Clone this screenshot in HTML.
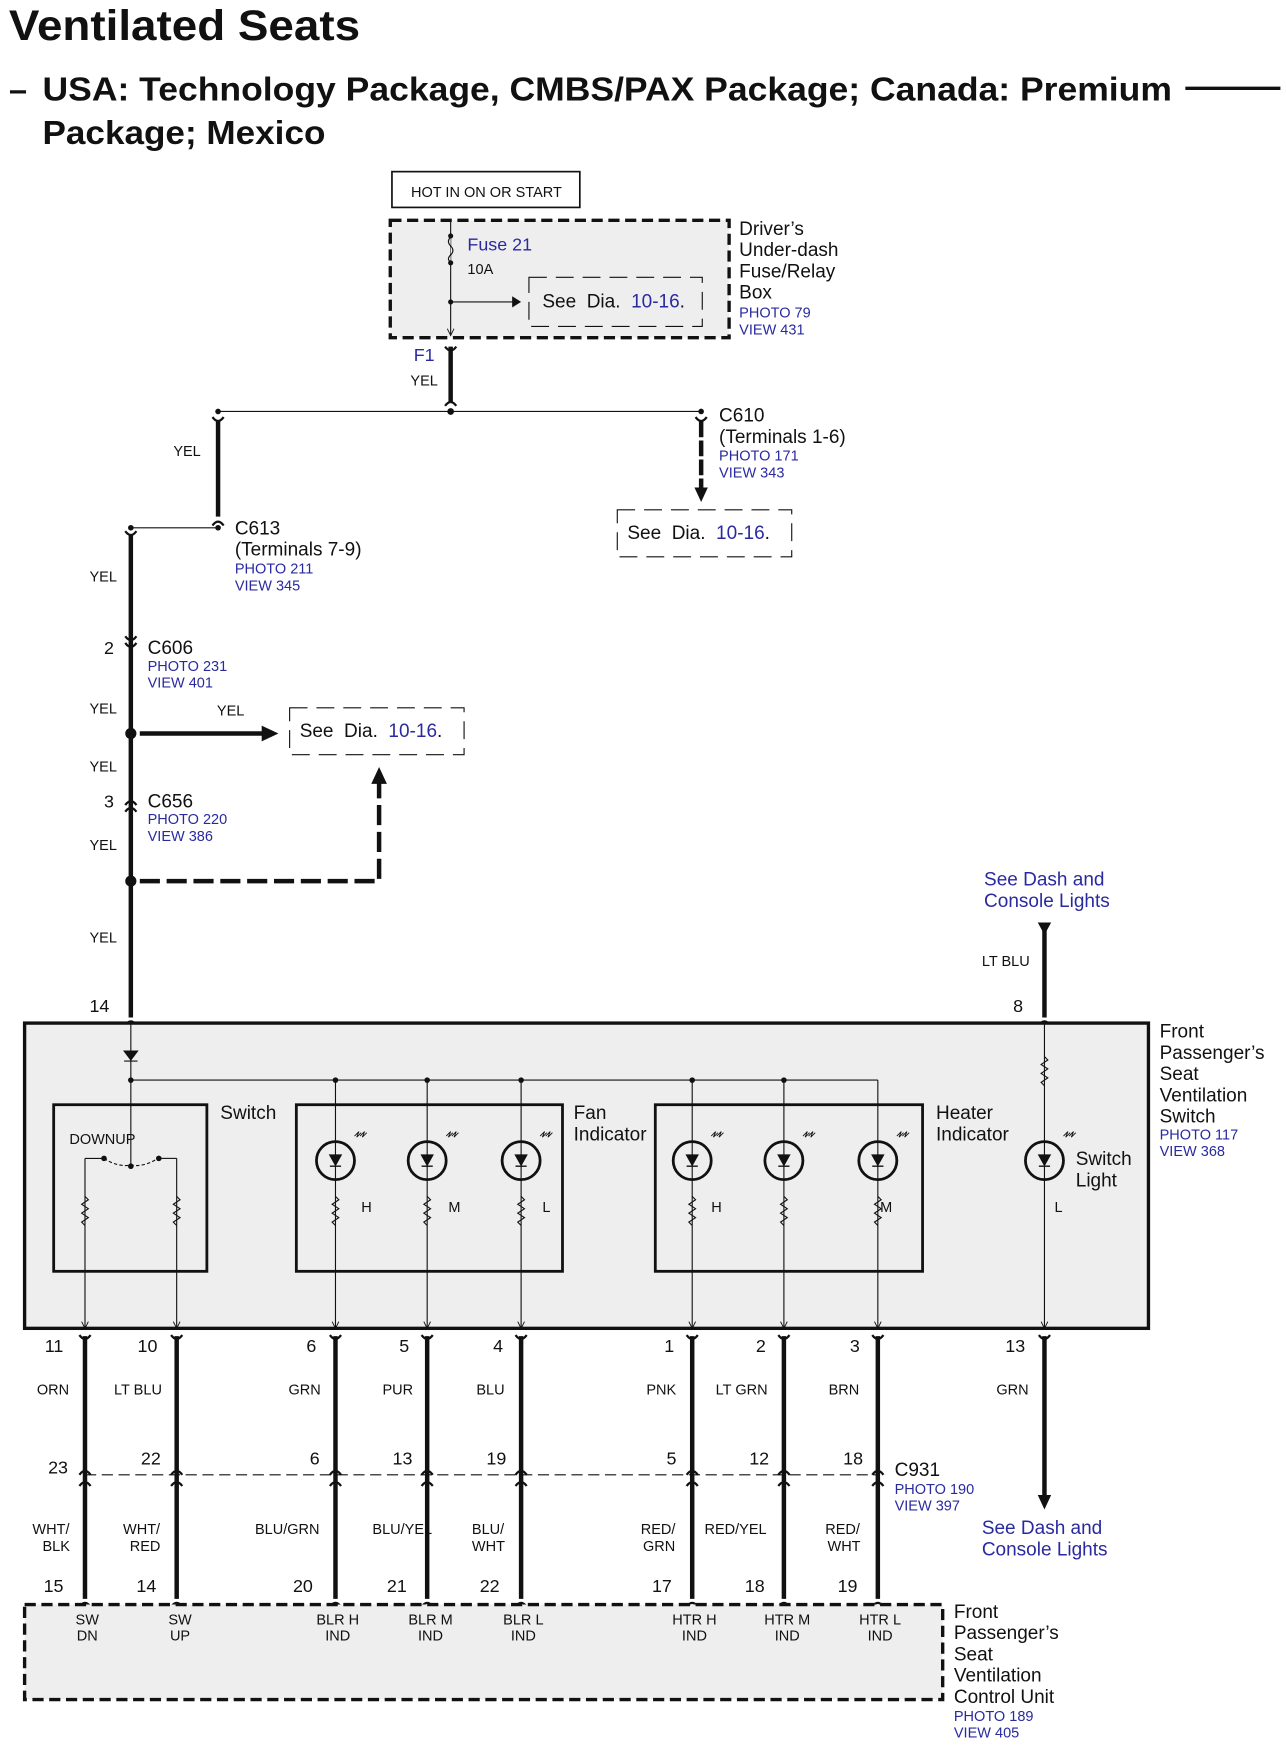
<!DOCTYPE html>
<html><head><meta charset="utf-8"><style>
html,body{margin:0;padding:0;background:#fff}
svg{display:block}
text{font-family:"Liberation Sans",Arial,sans-serif;fill:#111}
.b{fill:#2a2aa0}
.s12{font-size:13px}.s13{font-size:13px}.s16{font-size:16px}.s17{font-size:17px}
</style></head><body>
<svg width="1286" height="1751" viewBox="0 0 1150 1566" preserveAspectRatio="none" xmlns="http://www.w3.org/2000/svg">
<defs>
<path id="cv" d="M-5,-7 Q0,0 5,-7 M0,-3 L0,0" fill="none" stroke="#111" stroke-width="2"/>
<path id="cu" d="M-5,7 Q0,0 5,7" fill="none" stroke="#111" stroke-width="2"/>
<path id="ah" d="M-3,-6 L0,0 L3,-6" fill="none" stroke="#111" stroke-width="0.8"/>
<path id="res" d="M0,0 l3,3 l-6,4 l6,4 l-6,4 l6,4 l-6,4 l3,3" fill="none" stroke="#111" stroke-width="1"/>
<g id="lamp"><circle r="17" fill="none" stroke="#111" stroke-width="2.5"/><path d="M-5,-5 L5,-5 L0,4 Z M-5,5 L5,5" fill="#111" stroke="#111" stroke-width="1.2"/><path d="M17,-22 l4,-4 l-2,5 l4,-4 M22,-22 l4,-4 l-2,5 l4,-4" fill="none" stroke="#111" stroke-width="0.8"/></g>
</defs>

<text x="8" y="36" style="font-size:38px;font-weight:bold" textLength="314" lengthAdjust="spacingAndGlyphs">Ventilated Seats</text>
<text x="8" y="90" style="font-size:29px;font-weight:bold" textLength="22">–</text>
<text x="38" y="90" style="font-size:30px;font-weight:bold" textLength="1010" lengthAdjust="spacingAndGlyphs">USA: Technology Package, CMBS/PAX Package; Canada: Premium</text>
<line x1="1060" y1="79" x2="1145" y2="79" stroke="#111" stroke-width="3"/>
<text x="38" y="129" style="font-size:30px;font-weight:bold" textLength="253" lengthAdjust="spacingAndGlyphs">Package; Mexico</text>

<!-- HOT box -->
<rect x="350.5" y="153.5" width="168" height="32" fill="#fff" stroke="#111" stroke-width="1.5"/>
<text x="435" y="176" text-anchor="middle" class="s13">HOT IN ON OR START</text>

<!-- fuse box -->
<rect x="349" y="197" width="303" height="105" fill="#eee" stroke="#111" stroke-width="3" stroke-dasharray="10,5"/>
<line x1="403" y1="197" x2="403" y2="300" stroke="#111" stroke-width="1"/>
<path d="M403,212 q-4,4 0,8 q4,4 0,8 q-4,4 0,6" fill="#eee" stroke="#111" stroke-width="1"/>
<circle cx="403" cy="211" r="2.3" fill="#111"/><circle cx="403" cy="235" r="2.3" fill="#111"/><circle cx="403" cy="270" r="2.3" fill="#111"/>
<line x1="403" y1="270" x2="460" y2="270" stroke="#111" stroke-width="1"/><path d="M458,265 L466,270 L458,275 Z" fill="#111"/>
<use href="#ah" x="403" y="300"/>
<text x="418" y="224" class="s16 b">Fuse 21</text>
<text x="418" y="245" class="s12">10A</text>
<rect x="473" y="248" width="155" height="44" fill="none" stroke="#111" stroke-width="1" stroke-dasharray="16,8"/>
<text x="485" y="275" class="s17" xml:space="preserve">See  Dia.  <tspan class="b">10-16</tspan>.</text>
<text x="661" y="210" class="s17">Driver’s</text><text x="661" y="229" class="s17">Under-dash</text><text x="661" y="248" class="s17">Fuse/Relay</text><text x="661" y="267" class="s17">Box</text>
<text x="661" y="284" class="s13 b">PHOTO 79</text><text x="661" y="299" class="s13 b">VIEW 431</text>

<text x="370" y="323" class="s16 b">F1</text><text x="367" y="345" class="s12">YEL</text>
<line x1="403" y1="310" x2="403" y2="360" stroke="#111" stroke-width="4"/>
<use href="#cv" x="403" y="317"/><use href="#cu" x="403" y="356"/>
<line x1="195" y1="368" x2="627" y2="368" stroke="#111" stroke-width="1"/>
<circle cx="195" cy="368" r="2.5" fill="#111"/><circle cx="403" cy="368" r="3" fill="#111"/><circle cx="627" cy="368" r="2.5" fill="#111"/>

<line x1="195" y1="377" x2="195" y2="462" stroke="#111" stroke-width="4"/>
<use href="#cv" x="195" y="380"/><use href="#cu" x="195" y="463"/>
<text x="155" y="408" class="s12">YEL</text>
<line x1="117" y1="472" x2="195" y2="472" stroke="#111" stroke-width="1"/>
<circle cx="195" cy="472" r="2.5" fill="#111"/><circle cx="117" cy="472" r="2.5" fill="#111"/>
<text x="210" y="478" class="s17">C613</text><text x="210" y="497" class="s17">(Terminals 7-9)</text>
<text x="210" y="513" class="s13 b">PHOTO 211</text><text x="210" y="528" class="s13 b">VIEW 345</text>

<line x1="627" y1="377" x2="627" y2="437" stroke="#111" stroke-width="4" stroke-dasharray="14,3"/>
<use href="#cv" x="627" y="380"/>
<path d="M621,436 L633,436 L627,449 Z" fill="#111"/>
<text x="643" y="377" class="s17">C610</text><text x="643" y="396" class="s17">(Terminals 1-6)</text>
<text x="643" y="412" class="s13 b">PHOTO 171</text><text x="643" y="427" class="s13 b">VIEW 343</text>
<rect x="552" y="456" width="156" height="42" fill="none" stroke="#111" stroke-width="1" stroke-dasharray="16,8"/>
<text x="561" y="482" class="s17" xml:space="preserve">See  Dia.  <tspan class="b">10-16</tspan>.</text>

<!-- left trunk -->
<line x1="117" y1="478" x2="117" y2="910" stroke="#111" stroke-width="4"/>
<use href="#cv" x="117" y="482"/>
<text x="80" y="520" class="s12">YEL</text>
<use href="#cv" x="117" y="576"/><use href="#cv" x="117" y="582"/>
<text x="93" y="585" class="s16">2</text><text x="132" y="585" class="s17">C606</text>
<text x="132" y="600" class="s13 b">PHOTO 231</text><text x="132" y="615" class="s13 b">VIEW 401</text>
<text x="80" y="638" class="s12">YEL</text>
<circle cx="117" cy="656" r="5" fill="#111"/>
<line x1="125" y1="656" x2="236" y2="656" stroke="#111" stroke-width="4"/><path d="M234,649 L249,656 L234,663 Z" fill="#111"/>
<text x="194" y="640" class="s12">YEL</text>
<rect x="259" y="633" width="156" height="42" fill="none" stroke="#111" stroke-width="1" stroke-dasharray="16,8"/>
<text x="268" y="659" class="s17" xml:space="preserve">See  Dia.  <tspan class="b">10-16</tspan>.</text>
<text x="80" y="690" class="s12">YEL</text>
<use href="#cu" x="117" y="713"/><use href="#cu" x="117" y="719"/>
<text x="93" y="722" class="s16">3</text><text x="132" y="722" class="s17">C656</text>
<text x="132" y="737" class="s13 b">PHOTO 220</text><text x="132" y="752" class="s13 b">VIEW 386</text>
<text x="80" y="760" class="s12">YEL</text>
<circle cx="117" cy="788" r="5" fill="#111"/>
<path d="M125,788 L339,788 L339,700" fill="none" stroke="#111" stroke-width="4" stroke-dasharray="18,6"/>
<path d="M332,701 L339,686 L346,701 Z" fill="#111"/>
<text x="80" y="843" class="s12">YEL</text>
<text x="80" y="905" class="s16">14</text>
<use href="#cu" x="117" y="910"/>

<!-- right top -->
<text x="880" y="792" class="s17 b">See Dash and</text><text x="880" y="811" class="s17 b">Console Lights</text>
<path d="M928,825 L940,825 L934,836 Z" fill="#111"/>
<line x1="934" y1="830" x2="934" y2="910" stroke="#111" stroke-width="4"/>
<text x="878" y="864" class="s12">LT BLU</text>
<text x="906" y="905" class="s16">8</text>
<use href="#cu" x="934" y="910"/>

<!-- switch box -->
<rect x="22" y="915" width="1005" height="273" fill="#eee" stroke="#111" stroke-width="3"/>
<g stroke="#111" stroke-width="1" fill="none">
<line x1="117" y1="915" x2="117" y2="1043"/>
<line x1="117" y1="966" x2="785" y2="966"/>
<line x1="785" y1="966" x2="785" y2="1188"/>
<line x1="300" y1="966" x2="300" y2="1188"/><line x1="382" y1="966" x2="382" y2="1188"/><line x1="466" y1="966" x2="466" y2="1188"/>
<line x1="619" y1="966" x2="619" y2="1188"/><line x1="701" y1="966" x2="701" y2="1188"/>
<line x1="934" y1="915" x2="934" y2="1188"/>
<line x1="76" y1="1036" x2="76" y2="1188"/><line x1="158" y1="1036" x2="158" y2="1188"/>
<line x1="76" y1="1036" x2="91" y2="1036"/><line x1="144" y1="1036" x2="158" y2="1036"/>
<path d="M93,1036 Q105,1044 117,1042 Q129,1044 141,1036" stroke-dasharray="3,2"/>
</g>
<path d="M111,940 L123,940 L117,948 Z M111,949 L123,949" fill="#111" stroke="#111" stroke-width="1"/>
<circle cx="93" cy="1036" r="2.5" fill="#111"/><circle cx="142" cy="1036" r="2.5" fill="#111"/><circle cx="117" cy="1043" r="2.5" fill="#111"/>
<g fill="#111"><circle cx="117" cy="966" r="2.5"/><circle cx="300" cy="966" r="2.5"/><circle cx="382" cy="966" r="2.5"/><circle cx="466" cy="966" r="2.5"/><circle cx="619" cy="966" r="2.5"/><circle cx="701" cy="966" r="2.5"/></g>
<g fill="none" stroke="#111" stroke-width="2.5">
<rect x="48" y="988" width="137" height="149"/>
<rect x="265" y="988" width="238" height="149"/>
<rect x="586" y="988" width="239" height="149"/>
</g>
<use href="#lamp" x="300" y="1038"/><use href="#lamp" x="382" y="1038"/><use href="#lamp" x="466" y="1038"/>
<use href="#lamp" x="619" y="1038"/><use href="#lamp" x="701" y="1038"/><use href="#lamp" x="785" y="1038"/><use href="#lamp" x="934" y="1038"/>
<use href="#res" x="76" y="1070"/><use href="#res" x="158" y="1070"/>
<use href="#res" x="300" y="1070"/><use href="#res" x="382" y="1070"/><use href="#res" x="466" y="1070"/>
<use href="#res" x="619" y="1070"/><use href="#res" x="701" y="1070"/><use href="#res" x="785" y="1070"/>
<use href="#res" x="934" y="945"/>
<g><use href="#ah" x="76" y="1188"/><use href="#ah" x="158" y="1188"/><use href="#ah" x="300" y="1188"/><use href="#ah" x="382" y="1188"/><use href="#ah" x="466" y="1188"/><use href="#ah" x="619" y="1188"/><use href="#ah" x="701" y="1188"/><use href="#ah" x="785" y="1188"/><use href="#ah" x="934" y="1188"/></g>
<text x="62" y="1023" class="s12">DOWNUP</text>
<text x="197" y="1001" class="s17">Switch</text>
<text x="513" y="1001" class="s17">Fan</text><text x="513" y="1020" class="s17">Indicator</text>
<text x="837" y="1001" class="s17">Heater</text><text x="837" y="1020" class="s17">Indicator</text>
<text x="962" y="1042" class="s17">Switch</text><text x="962" y="1061" class="s17">Light</text>
<g class="s12"><text x="323" y="1084">H</text><text x="401" y="1084">M</text><text x="485" y="1084">L</text><text x="636" y="1084">H</text><text x="787" y="1084">M</text><text x="943" y="1084">L</text></g>
<text x="1037" y="928" class="s17">Front</text><text x="1037" y="947" class="s17">Passenger’s</text><text x="1037" y="966" class="s17">Seat</text><text x="1037" y="985" class="s17">Ventilation</text><text x="1037" y="1004" class="s17">Switch</text>
<text x="1037" y="1019" class="s13 b">PHOTO 117</text><text x="1037" y="1034" class="s13 b">VIEW 368</text>

<!-- bottom wires -->
<g stroke="#111" stroke-width="4">
<line x1="76" y1="1195" x2="76" y2="1430"/><line x1="158" y1="1195" x2="158" y2="1430"/>
<line x1="300" y1="1195" x2="300" y2="1430"/><line x1="382" y1="1195" x2="382" y2="1430"/><line x1="466" y1="1195" x2="466" y2="1430"/>
<line x1="619" y1="1195" x2="619" y2="1430"/><line x1="701" y1="1195" x2="701" y2="1430"/><line x1="785" y1="1195" x2="785" y2="1430"/>
<line x1="934" y1="1195" x2="934" y2="1338"/>
</g>
<path d="M928,1337 L940,1337 L934,1350 Z" fill="#111"/>
<g>
<use href="#cv" x="76" y="1201"/><use href="#cv" x="158" y="1201"/><use href="#cv" x="300" y="1201"/><use href="#cv" x="382" y="1201"/><use href="#cv" x="466" y="1201"/><use href="#cv" x="619" y="1201"/><use href="#cv" x="701" y="1201"/><use href="#cv" x="785" y="1201"/><use href="#cv" x="934" y="1201"/>
<use href="#cu" x="76" y="1312"/><use href="#cu" x="158" y="1312"/><use href="#cu" x="300" y="1312"/><use href="#cu" x="382" y="1312"/><use href="#cu" x="466" y="1312"/><use href="#cu" x="619" y="1312"/><use href="#cu" x="701" y="1312"/><use href="#cu" x="785" y="1312"/>
<use href="#cu" x="76" y="1322"/><use href="#cu" x="158" y="1322"/><use href="#cu" x="300" y="1322"/><use href="#cu" x="382" y="1322"/><use href="#cu" x="466" y="1322"/><use href="#cu" x="619" y="1322"/><use href="#cu" x="701" y="1322"/><use href="#cu" x="785" y="1322"/>
<use href="#cu" x="76" y="1430"/><use href="#cu" x="158" y="1430"/><use href="#cu" x="300" y="1430"/><use href="#cu" x="382" y="1430"/><use href="#cu" x="466" y="1430"/><use href="#cu" x="619" y="1430"/><use href="#cu" x="701" y="1430"/><use href="#cu" x="785" y="1430"/>
</g>
<line x1="76" y1="1319" x2="785" y2="1319" stroke="#111" stroke-width="1" stroke-dasharray="10,5"/>
<g class="s16">
<text x="40" y="1209">11</text><text x="123" y="1209">10</text><text x="274" y="1209">6</text><text x="357" y="1209">5</text><text x="441" y="1209">4</text><text x="594" y="1209">1</text><text x="676" y="1209">2</text><text x="760" y="1209">3</text><text x="899" y="1209">13</text>
<text x="43" y="1318">23</text><text x="126" y="1310">22</text><text x="277" y="1310">6</text><text x="351" y="1310">13</text><text x="435" y="1310">19</text><text x="596" y="1310">5</text><text x="670" y="1310">12</text><text x="754" y="1310">18</text>
<text x="39" y="1424">15</text><text x="122" y="1424">14</text><text x="262" y="1424">20</text><text x="346" y="1424">21</text><text x="429" y="1424">22</text><text x="583" y="1424">17</text><text x="666" y="1424">18</text><text x="749" y="1424">19</text>
</g>
<g class="s12">
<text x="33" y="1247">ORN</text><text x="102" y="1247">LT BLU</text><text x="258" y="1247">GRN</text><text x="342" y="1247">PUR</text><text x="426" y="1247">BLU</text><text x="578" y="1247">PNK</text><text x="640" y="1247">LT GRN</text><text x="741" y="1247">BRN</text><text x="891" y="1247">GRN</text>
<text x="29" y="1372">WHT/</text><text x="38" y="1387">BLK</text>
<text x="110" y="1372">WHT/</text><text x="116" y="1387">RED</text>
<text x="228" y="1372">BLU/GRN</text><text x="333" y="1372">BLU/YEL</text>
<text x="422" y="1372">BLU/</text><text x="422" y="1387">WHT</text>
<text x="573" y="1372">RED/</text><text x="575" y="1387">GRN</text>
<text x="630" y="1372">RED/YEL</text>
<text x="738" y="1372">RED/</text><text x="740" y="1387">WHT</text>
</g>
<text x="800" y="1320" class="s17">C931</text>
<text x="800" y="1336" class="s13 b">PHOTO 190</text><text x="800" y="1351" class="s13 b">VIEW 397</text>
<text x="878" y="1372" class="s17 b">See Dash and</text><text x="878" y="1391" class="s17 b">Console Lights</text>

<!-- control unit -->
<rect x="22" y="1435" width="821" height="85" fill="#eee" stroke="#111" stroke-width="3" stroke-dasharray="10,5"/>
<g class="s12" text-anchor="middle">
<text x="78" y="1453">SW</text><text x="78" y="1467">DN</text>
<text x="161" y="1453">SW</text><text x="161" y="1467">UP</text>
<text x="302" y="1453">BLR H</text><text x="302" y="1467">IND</text>
<text x="385" y="1453">BLR M</text><text x="385" y="1467">IND</text>
<text x="468" y="1453">BLR L</text><text x="468" y="1467">IND</text>
<text x="621" y="1453">HTR H</text><text x="621" y="1467">IND</text>
<text x="704" y="1453">HTR M</text><text x="704" y="1467">IND</text>
<text x="787" y="1453">HTR L</text><text x="787" y="1467">IND</text>
</g>
<text x="853" y="1447" class="s17">Front</text><text x="853" y="1466" class="s17">Passenger’s</text><text x="853" y="1485" class="s17">Seat</text><text x="853" y="1504" class="s17">Ventilation</text><text x="853" y="1523" class="s17">Control Unit</text>
<text x="853" y="1539" class="s13 b">PHOTO 189</text><text x="853" y="1554" class="s13 b">VIEW 405</text>
</svg>
</body></html>
